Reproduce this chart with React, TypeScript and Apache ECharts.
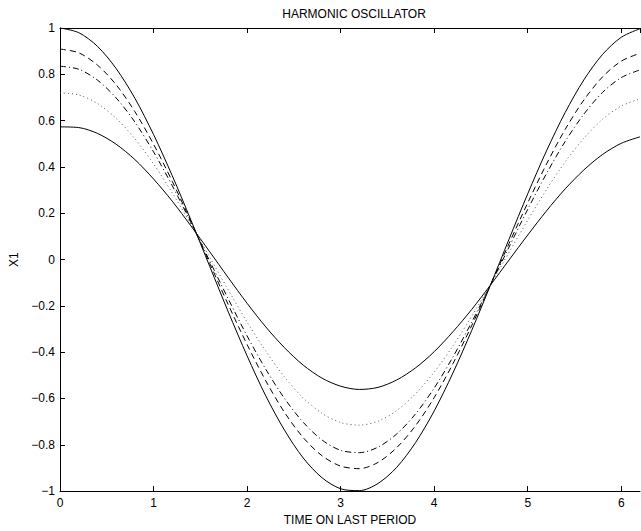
import React, { useEffect, useRef } from "react";
import * as echarts from "echarts";

const times = [0, 0.2, 0.4, 0.6, 0.8, 1.0, 1.2, 1.4, 1.6, 1.8, 2.0, 2.2, 2.4, 2.6, 2.8, 3.0, 3.2, 3.4, 3.6, 3.8, 4.0, 4.2, 4.4, 4.6, 4.8, 5.0, 5.2, 5.4, 5.6, 5.8, 6.0, 6.2];

const outerSolid = [1, 0.980, 0.921, 0.825, 0.697, 0.540, 0.362, 0.170, -0.029, -0.227, -0.416, -0.589, -0.737, -0.857, -0.942, -0.990, -0.998, -0.967, -0.897, -0.791, -0.654, -0.490, -0.307, -0.112, 0.088, 0.284, 0.469, 0.635, 0.776, 0.886, 0.960, 0.997];
const dashed = [0.909, 0.893, 0.840, 0.755, 0.639, 0.498, 0.338, 0.164, -0.016, -0.196, -0.367, -0.524, -0.660, -0.769, -0.847, -0.892, -0.903, -0.876, -0.812, -0.718, -0.596, -0.450, -0.286, -0.111, 0.069, 0.245, 0.412, 0.562, 0.689, 0.789, 0.857, 0.891];
const dashDot = [0.835, 0.822, 0.775, 0.698, 0.594, 0.465, 0.319, 0.159, -0.006, -0.171, -0.330, -0.474, -0.600, -0.703, -0.779, -0.824, -0.834, -0.810, -0.753, -0.667, -0.555, -0.421, -0.271, -0.111, 0.054, 0.217, 0.371, 0.510, 0.628, 0.722, 0.786, 0.819];
const dotted = [0.720, 0.711, 0.674, 0.610, 0.522, 0.413, 0.288, 0.152, 0.010, -0.132, -0.270, -0.396, -0.507, -0.598, -0.664, -0.704, -0.715, -0.698, -0.652, -0.580, -0.486, -0.373, -0.246, -0.110, 0.031, 0.170, 0.302, 0.422, 0.524, 0.606, 0.663, 0.694];
const innerSolid = [0.573, 0.570, 0.545, 0.498, 0.432, 0.348, 0.252, 0.145, 0.034, -0.079, -0.189, -0.291, -0.381, -0.456, -0.512, -0.547, -0.561, -0.552, -0.520, -0.468, -0.398, -0.312, -0.216, -0.111, -0.002, 0.106, 0.210, 0.305, 0.387, 0.454, 0.502, 0.530];

const xTicks = [0, 1, 2, 3, 4, 5, 6];

const FONT = "Liberation Sans";

function pairs(ys: number[]) {
  return times.map((t, i) => [t, ys[i]]);
}

export default function App() {
  const ref = useRef<HTMLDivElement>(null);
  useEffect(() => {
    if (!ref.current) return;
    const chart = echarts.init(ref.current, null, { renderer: "svg" });
    const axisLine = { show: true, onZero: false, lineStyle: { color: "#000", width: 1 } };
    const tick = { show: true, inside: true, length: 5, lineStyle: { color: "#000", width: 1 } };
    const fmtY = (v: number) => {
      const r = Math.round(v * 10) / 10;
      return String(r).replace("-", "\u2212");
    };
    const fmtX = (v: number) => (xTicks.includes(Math.round(v * 1000) / 1000) ? String(v) : "");
    const line = (data: number[], type: any, width = 1, color = "#000") => ({
      type: "line",
      data: pairs(data),
      showSymbol: false,
      symbol: "none",
      smooth: 0.3,
      lineStyle: { color, width, type },
      xAxisIndex: 0,
      yAxisIndex: 0,
    });
    chart.setOption({
      animation: false,
      backgroundColor: "#fff",
      title: {
        text: "HARMONIC OSCILLATOR",
        left: 349,
        top: 3,
        textAlign: "center",
        textStyle: { fontFamily: FONT, fontSize: 12, fontWeight: "normal", color: "#000" },
      },
      grid: { left: 57, right: 1, top: 28, bottom: 37, containLabel: false },
      xAxis: [
        {
          type: "value",
          min: 0,
          max: 6.2,
          interval: 1,
          position: "bottom",
          axisLine,
          axisTick: tick,
          splitLine: { show: false },
          axisLabel: { color: "#000", fontFamily: FONT, fontSize: 12, margin: 6, formatter: fmtX, showMaxLabel: false },
          name: "TIME ON LAST PERIOD",
          nameLocation: "middle",
          nameGap: 20,
          nameTextStyle: { color: "#000", fontFamily: FONT, fontSize: 12 },
        },
        {
          type: "value",
          min: 0,
          max: 6.2,
          interval: 1,
          position: "top",
          axisLine,
          axisTick: tick,
          splitLine: { show: false },
          axisLabel: { show: false },
        },
      ],
      yAxis: [
        {
          type: "value",
          min: -1,
          max: 1,
          interval: 0.2,
          position: "left",
          axisLine,
          axisTick: tick,
          splitLine: { show: false },
          axisLabel: { color: "#000", fontFamily: FONT, fontSize: 12, margin: 5, formatter: fmtY },
          name: "X1",
          nameLocation: "middle",
          nameGap: 40,
          nameRotate: 90,
          nameTextStyle: { color: "#000", fontFamily: FONT, fontSize: 12 },
        },
      ],
      series: [
        line(outerSolid, "solid"),
        line(dashed, [6, 4]),
        line(dashDot, [6, 3, 1, 3]),
        line(dotted, [1, 3], 1, "#555"),
        line(innerSolid, "solid"),
      ],
    });
    return () => chart.dispose();
  }, []);
  return <div ref={ref} style={{ position: "fixed", left: 0, top: 0, width: 641, height: 531 }} />;
}
